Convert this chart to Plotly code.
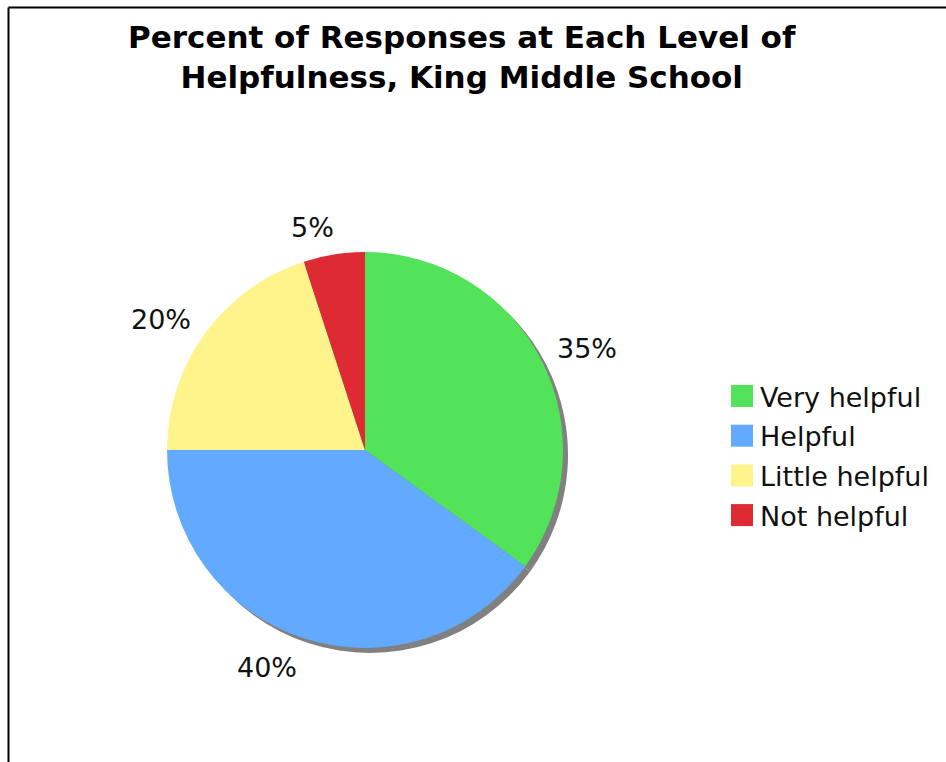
import math
import plotly.graph_objects as go

# Survey categories and their share of responses (percent)
categories = ["Very helpful", "Helpful", "Little helpful", "Not helpful"]
percents = [35, 40, 20, 5]
colors = ["#52E35A", "#62AAFF", "#FFF38C", "#DE2A32"]
title_lines = ["Percent of Responses at Each Level of", "Helpfulness, King Middle School"]

W, H = 946, 762
CX, CY, R = 365, 450, 198      # pie centre / radius in pixels
SHADOW = 5                     # drop-shadow offset in pixels
LABEL_R = 213                  # radius where value labels are anchored


def px_x(x):
    return x / W


def px_y(y):
    return 1 - y / H


fig = go.Figure()

# drop shadow: same pie in grey, nudged right and down
fig.add_trace(go.Pie(
    labels=categories, values=percents, sort=False, direction="clockwise",
    rotation=0, textinfo="none", hoverinfo="skip", showlegend=False,
    marker=dict(colors=["#808080"] * len(percents), line=dict(width=0)),
    domain=dict(x=[px_x(CX - R + SHADOW), px_x(CX + R + SHADOW)],
                y=[px_y(CY + R + SHADOW), px_y(CY - R + SHADOW)]),
))

fig.add_trace(go.Pie(
    labels=categories, values=percents, sort=False, direction="clockwise",
    rotation=0, textinfo="none", hoverinfo="label+percent", showlegend=False,
    marker=dict(colors=colors, line=dict(width=0)),
    domain=dict(x=[px_x(CX - R), px_x(CX + R)],
                y=[px_y(CY + R), px_y(CY - R)]),
))

annotations = []
shapes = []

# chart title
annotations.append(dict(
    x=px_x(462), y=px_y(17), xref="paper", yref="paper",
    text="<br>".join(title_lines), showarrow=False,
    xanchor="center", yanchor="top", align="center",
    font=dict(family="DejaVu Sans", size=31, color="#000000", weight="bold"),
))

# value labels outside each slice
total = sum(percents)
cum = 0
for v in percents:
    mid = (cum + v / 2) / total * 2 * math.pi
    cum += v
    dx, dy = math.sin(mid), math.cos(mid)  # dy positive = upwards
    x = CX + dx * LABEL_R
    y = CY - dy * LABEL_R
    xanchor = "left" if dx > 0 else "right"
    if abs(dy) < 0.7:
        yanchor = "middle"
        y -= 5
    else:
        yanchor = "bottom" if dy > 0 else "top"
        if dy > 0:
            y += 5
            x += 4
        else:
            y -= 3
    annotations.append(dict(
        x=px_x(x), y=px_y(y), xref="paper", yref="paper",
        text=f"{v}%", showarrow=False, xanchor=xanchor, yanchor=yanchor,
        font=dict(family="DejaVu Sans", size=27, color="#111111"),
    ))

# legend: colour squares with category names
LEG_X, LEG_Y0, LEG_STEP, SW = 731, 396, 39.7, 22
for i, (name, c) in enumerate(zip(categories, colors)):
    yc = LEG_Y0 + i * LEG_STEP
    shapes.append(dict(
        type="rect", xref="paper", yref="paper",
        x0=px_x(LEG_X), x1=px_x(LEG_X + SW),
        y0=px_y(yc + SW / 2), y1=px_y(yc - SW / 2),
        fillcolor=c, line=dict(width=0),
    ))
    annotations.append(dict(
        x=px_x(LEG_X + SW + 5), y=px_y(yc + 1), xref="paper", yref="paper",
        text=name, showarrow=False, xanchor="left", yanchor="middle",
        font=dict(family="DejaVu Sans", size=27, color="#111111"),
    ))

# frame lines along top and left edges
shapes.append(dict(type="line", xref="paper", yref="paper",
                   x0=px_x(8.5), x1=1, y0=px_y(7.5), y1=px_y(7.5),
                   line=dict(color="#000000", width=2)))
shapes.append(dict(type="line", xref="paper", yref="paper",
                   x0=px_x(8.5), x1=px_x(8.5), y0=px_y(7.5), y1=0,
                   line=dict(color="#000000", width=2)))

fig.update_layout(
    width=W, height=H,
    margin=dict(l=0, r=0, t=0, b=0),
    paper_bgcolor="white", plot_bgcolor="white",
    showlegend=False,
    annotations=annotations,
    shapes=shapes,
)

fig.write_html("out.html")
